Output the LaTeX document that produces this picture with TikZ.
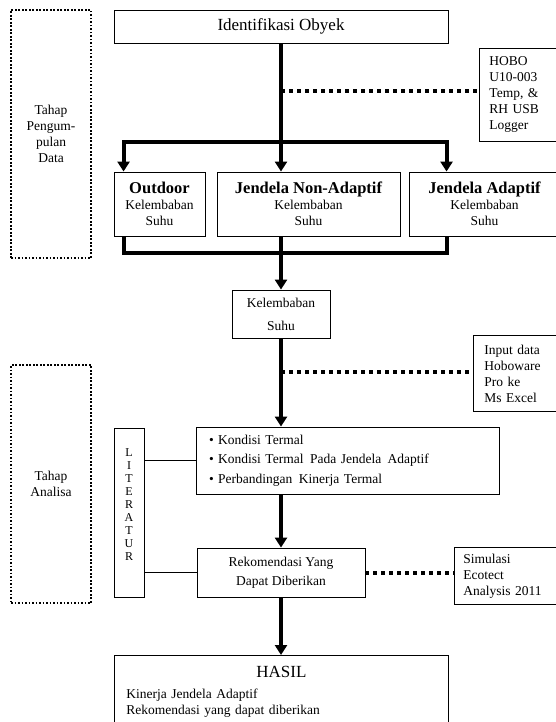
\documentclass[tikz,border=0pt]{standalone}
\usepackage{fontspec}
\setmainfont{Liberation Serif}
\usetikzlibrary{positioning,arrows.meta}

\begin{document}
\begin{tikzpicture}[x=1pt,y=-1pt,line width=0.9pt,
	box/.style={draw,rectangle,inner sep=0pt,align=center,font=\fontsize{13.5}{16}\selectfont},
	sidebox/.style={draw,rectangle,anchor=north west,inner ysep=0pt,align=left,font=\fontsize{13.5}{16}\selectfont},
	stage/.style={draw,rectangle,line width=1.6pt,dash pattern=on 1.6pt off 1.9pt,minimum width=80pt,align=center,font=\fontsize{13.5}{16}\selectfont},
	bar/.style={line width=4pt},
	arr/.style={line width=4pt,-{Triangle[width=12pt,length=10pt]}},
	dots/.style={line width=4pt,dash pattern=on 4pt off 4pt}]
	\useasboundingbox (0,0) rectangle (556,722);

	\node[stage,minimum height=248pt] (tahapdata) at (51,134) {Tahap\\Pengum-\\pulan\\Data};
	\node[stage,minimum height=238pt] (tahapanalisa) at (51,484) {Tahap\\Analisa};

	\node[box,minimum width=334pt,minimum height=33pt,font=\fontsize{17}{20}\selectfont] (ident) at (281,26.5) {Identifikasi Obyek};
	\node[sidebox,text width=80pt,inner xsep=10pt,minimum height=93pt] (hobo) at (479,48) {HOBO\\U10-003\\Temp, \&\\RH USB\\Logger};

	\node[box,minimum width=91pt,minimum height=64pt] (outdoor) at (159.5,204) {{\fontsize{16.5}{18}\selectfont\bfseries Outdoor}\\Kelembaban\\Suhu};
	\node[box,minimum width=183pt,minimum height=64pt] (nonad) at (308.5,204) {{\fontsize{16.5}{18}\selectfont\bfseries Jendela Non-Adaptif}\\Kelembaban\\Suhu};
	\node[box,minimum width=151pt,minimum height=64pt] (adapt) at (484.5,204) {{\fontsize{16.5}{18}\selectfont\bfseries Jendela Adaptif}\\Kelembaban\\Suhu};

	\node[box,minimum width=98pt,minimum height=48pt] (kelem) at (281,314) {Kelembaban\\[7pt]Suhu};
	\node[sidebox,text width=80pt,inner xsep=11pt,minimum height=76pt] (input) at (473,335) {Input data\\Hoboware\\Pro ke\\Ms Excel};

	\node[box,text width=277pt,inner xsep=13pt,align=left,minimum height=67pt] (kondisi) at (347.5,460.5) {\textbullet\ Kondisi Termal\\[3.5pt]\textbullet\ Kondisi Termal\hspace{2pt} Pada Jendela\hspace{2pt} Adaptif\\[3.5pt]\textbullet\ Perbandingan\hspace{2pt} Kinerja Termal};
	\node[box,minimum width=30pt,minimum height=169pt] (liter) at (129,512.5) {};
	\node[align=center,inner sep=0pt,font=\fontsize{12}{13.1}\selectfont] (litertext) at (129,504.5) {L\\I\\T\\E\\R\\A\\T\\U\\R};

	\node[box,minimum width=168pt,minimum height=49pt] (rekom) at (281,572.5) {Rekomendasi Yang\\[3pt]Dapat Diberikan};
	\node[sidebox,text width=100pt,inner xsep=9pt,minimum height=57pt] (simul) at (454,547) {Simulasi\\Ecotect\\Analysis 2011};

	\node[sidebox,text width=310pt,inner xsep=12pt,inner ysep=5pt,minimum height=72pt] (hasil) at (114,655) {{\centering\fontsize{17}{20}\selectfont HASIL\par}\vspace{5pt}Kinerja Jendela Adaptif\\Rekomendasi yang dapat diberikan};

	\coordinate (split) at (281,142);
	\coordinate (tap1) at (281,91);
	\coordinate (merge) at (281,253);
	\coordinate (tap2) at (281,372);

	\draw[bar] (ident) -- (split);
	\draw[arr] (split) -| ([xshift=10pt]outdoor.north west);
	\draw[arr] (split) -| ([xshift=38pt]adapt.north west);
	\draw[arr] (split) -- (split |- nonad.north);
	\draw[dots] (tap1) -- (tap1 -| hobo.west);

	\draw[bar] ([xshift=10pt]outdoor.south west) |- (merge);
	\draw[bar] ([xshift=38pt]adapt.south west) |- (merge);
	\draw[bar] (merge |- nonad.south) -- (merge);
	\draw[arr] (merge) -- (kelem);

	\draw[arr] (kelem) -- (kelem.south |- kondisi.north);
	\draw[dots] (tap2) -- (tap2 -| input.west);

	\draw (kondisi.west) -- (kondisi.west -| liter.east);
	\draw (rekom.west) -- (rekom.west -| liter.east);
	\draw[arr] (rekom.north |- kondisi.south) -- (rekom);
	\draw[dots] (rekom.east) -- (simul.west |- rekom.east);
	\draw[arr] (rekom) -- (rekom.south |- hasil.north);
\end{tikzpicture}
\end{document}
